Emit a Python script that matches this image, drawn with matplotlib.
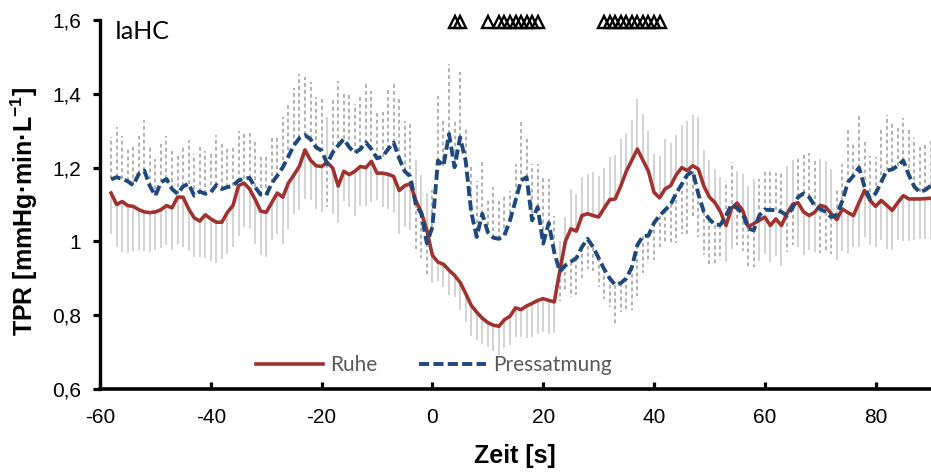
import numpy as np
import matplotlib
matplotlib.use("Agg")
import matplotlib.pyplot as plt
from matplotlib.lines import Line2D

# time axis [s]
t = np.arange(-58, 91)

# TPR means, Ruhe
ruhe = [1.131, 1.100, 1.108, 1.097, 1.095, 1.086, 1.080, 1.078, 1.080, 1.086,
        1.097, 1.091, 1.120, 1.120, 1.088, 1.064, 1.055, 1.072, 1.061, 1.052,
        1.052, 1.079, 1.097, 1.151, 1.158, 1.142, 1.114, 1.082, 1.079, 1.105,
        1.131, 1.120, 1.158, 1.180, 1.204, 1.248, 1.220, 1.205, 1.203, 1.214,
        1.199, 1.150, 1.190, 1.181, 1.190, 1.203, 1.200, 1.217, 1.185, 1.185,
        1.182, 1.176, 1.138, 1.151, 1.156, 1.111, 1.079, 1.030, 0.962, 0.944,
        0.938, 0.922, 0.908, 0.889, 0.859, 0.827, 0.808, 0.792, 0.780, 0.773,
        0.770, 0.788, 0.797, 0.820, 0.815, 0.825, 0.832, 0.840, 0.845, 0.840,
        0.836, 0.920, 1.000, 1.034, 1.028, 1.070, 1.075, 1.070, 1.066, 1.090,
        1.113, 1.115, 1.150, 1.190, 1.220, 1.250, 1.220, 1.190, 1.133, 1.118,
        1.142, 1.151, 1.180, 1.200, 1.192, 1.205, 1.196, 1.150, 1.120, 1.105,
        1.080, 1.043, 1.090, 1.104, 1.084, 1.040, 1.048, 1.057, 1.066, 1.043,
        1.061, 1.043, 1.075, 1.100, 1.105, 1.080, 1.070, 1.079, 1.098, 1.093,
        1.075, 1.059, 1.088, 1.078, 1.070, 1.105, 1.138, 1.111, 1.095, 1.111,
        1.098, 1.084, 1.105, 1.124, 1.115, 1.115, 1.115, 1.116, 1.117]

ruhe_sd = [0.110, 0.114, 0.137, 0.129, 0.121, 0.108, 0.106, 0.107, 0.104, 0.103,
           0.108, 0.113, 0.128, 0.134, 0.114, 0.105, 0.096, 0.116, 0.114, 0.110,
           0.101, 0.112, 0.112, 0.137, 0.119, 0.108, 0.120, 0.120, 0.121, 0.100,
           0.110, 0.126, 0.124, 0.105, 0.120, 0.133, 0.108, 0.117, 0.124, 0.122,
           0.124, 0.100, 0.080, 0.088, 0.120, 0.107, 0.103, 0.111, 0.074, 0.092,
           0.094, 0.100, 0.117, 0.112, 0.126, 0.110, 0.100, 0.100, 0.076, 0.050,
           0.061, 0.068, 0.059, 0.075, 0.077, 0.084, 0.076, 0.070, 0.066, 0.071,
           0.079, 0.076, 0.078, 0.079, 0.075, 0.087, 0.090, 0.090, 0.090, 0.090,
           0.085, 0.080, 0.066, 0.108, 0.100, 0.104, 0.108, 0.118, 0.112, 0.110,
           0.115, 0.120, 0.128, 0.103, 0.110, 0.136, 0.125, 0.108, 0.104, 0.113,
           0.136, 0.115, 0.108, 0.116, 0.135, 0.138, 0.142, 0.097, 0.100, 0.092,
           0.094, 0.100, 0.110, 0.086, 0.100, 0.110, 0.120, 0.110, 0.100, 0.100,
           0.100, 0.110, 0.130, 0.120, 0.120, 0.118, 0.094, 0.109, 0.124, 0.125,
           0.120, 0.110, 0.115, 0.110, 0.085, 0.120, 0.126, 0.122, 0.110, 0.108,
           0.118, 0.108, 0.102, 0.124, 0.115, 0.112, 0.108, 0.110, 0.110]

# TPR means, Pressatmung
press = [1.168, 1.174, 1.169, 1.163, 1.152, 1.183, 1.192, 1.150, 1.124, 1.160,
         1.169, 1.142, 1.129, 1.149, 1.156, 1.124, 1.135, 1.129, 1.133, 1.153,
         1.142, 1.147, 1.151, 1.165, 1.170, 1.172, 1.147, 1.127, 1.125, 1.158,
         1.178, 1.201, 1.230, 1.260, 1.280, 1.288, 1.277, 1.255, 1.246, 1.210,
         1.241, 1.260, 1.277, 1.255, 1.240, 1.250, 1.268, 1.250, 1.225, 1.230,
         1.250, 1.268, 1.225, 1.190, 1.176, 1.100, 1.075, 0.995, 1.039, 1.219,
         1.205, 1.291, 1.201, 1.282, 1.219, 1.080, 1.012, 1.075, 1.025, 1.010,
         1.007, 1.016, 1.057, 1.110, 1.165, 1.174, 1.057, 1.093, 0.994, 1.050,
         0.970, 0.918, 0.935, 0.945, 0.955, 0.985, 1.007, 0.985, 0.955, 0.925,
         0.900, 0.882, 0.887, 0.900, 0.930, 0.990, 1.014, 1.016, 1.050, 1.070,
         1.085, 1.100, 1.130, 1.155, 1.180, 1.190, 1.129, 1.080, 1.060, 1.045,
         1.045, 1.070, 1.100, 1.090, 1.075, 1.035, 1.030, 1.070, 1.086, 1.085,
         1.085, 1.080, 1.070, 1.090, 1.120, 1.130, 1.120, 1.097, 1.088, 1.080,
         1.066, 1.072, 1.110, 1.160, 1.178, 1.200, 1.148, 1.115, 1.130, 1.160,
         1.192, 1.195, 1.205, 1.219, 1.180, 1.148, 1.133, 1.140, 1.151]

press_sd = [0.114, 0.135, 0.117, 0.094, 0.112, 0.110, 0.137, 0.105, 0.100, 0.113,
            0.117, 0.104, 0.103, 0.110, 0.119, 0.113, 0.120, 0.117, 0.104, 0.136,
            0.126, 0.108, 0.108, 0.133, 0.128, 0.130, 0.124, 0.105, 0.103, 0.124,
            0.108, 0.135, 0.146, 0.157, 0.173, 0.158, 0.154, 0.135, 0.144, 0.118,
            0.151, 0.175, 0.122, 0.144, 0.132, 0.140, 0.158, 0.158, 0.129, 0.124,
            0.167, 0.163, 0.170, 0.137, 0.142, 0.130, 0.120, 0.090, 0.100, 0.176,
            0.125, 0.190, 0.131, 0.176, 0.086, 0.130, 0.153, 0.148, 0.090, 0.137,
            0.104, 0.108, 0.080, 0.100, 0.164, 0.112, 0.153, 0.117, 0.180, 0.120,
            0.100, 0.080, 0.072, 0.096, 0.100, 0.086, 0.081, 0.065, 0.078, 0.080,
            0.078, 0.105, 0.077, 0.090, 0.116, 0.138, 0.100, 0.074, 0.100, 0.085,
            0.087, 0.110, 0.135, 0.134, 0.160, 0.120, 0.117, 0.118, 0.120, 0.105,
            0.095, 0.095, 0.114, 0.100, 0.100, 0.105, 0.100, 0.100, 0.104, 0.105,
            0.100, 0.105, 0.100, 0.100, 0.110, 0.111, 0.120, 0.122, 0.120, 0.110,
            0.100, 0.070, 0.100, 0.145, 0.086, 0.143, 0.125, 0.117, 0.100, 0.142,
            0.151, 0.127, 0.109, 0.115, 0.127, 0.132, 0.126, 0.128, 0.120]

# seconds with significant difference
sig_t = [4, 5, 10, 12, 13, 14, 15, 16, 17, 18, 19,
         31, 32, 33, 34, 35, 36, 37, 38, 39, 40, 41]

ruhe = np.array(ruhe)
press = np.array(press)
ruhe_sd = np.array(ruhe_sd)
press_sd = np.array(press_sd)

red = "#A0332F"
blue = "#1F497D"

fig = plt.figure(figsize=(9.31, 4.72), dpi=100)
ax = fig.add_axes([100 / 931, 83 / 472, 831 / 931, 369 / 472])

# SD bars point away from the other curve
up = ruhe >= press
ax.vlines(t, ruhe, np.where(up, ruhe + ruhe_sd, ruhe - ruhe_sd),
          color="#c8c8c8", lw=1.1, zorder=1)
ax.vlines(t, press, np.where(up, press - press_sd, press + press_sd),
          color="#9d9d9d", lw=1.1, linestyles=(0, (2.5, 2)), zorder=1)

ax.plot(t, ruhe, color=red, lw=2.6, zorder=3, solid_joinstyle="round")
ax.plot(t, press, color=blue, lw=2.8, dashes=(2.6, 1.1), zorder=4)

ax.plot(sig_t, [1.595] * len(sig_t), ls="none", marker="^", ms=8.5,
        mfc="none", mec="black", mew=1.7, clip_on=False, zorder=5)

ax.set_xlim(-60, 90)
ax.set_ylim(0.6, 1.6)
ax.set_xticks([-60, -40, -20, 0, 20, 40, 60, 80])
ax.set_xticklabels(["-60", "-40", "-20", "0", "20", "40", "60", "80"])
ax.set_yticks([0.6, 0.8, 1.0, 1.2, 1.4, 1.6])
ax.set_yticklabels(["0,6", "0,8", "1", "1,2", "1,4", "1,6"])

for s in ["top", "right"]:
    ax.spines[s].set_visible(False)
ax.spines["left"].set_linewidth(2.4)
ax.spines["bottom"].set_linewidth(2.6)
ax.tick_params(axis="y", direction="out", length=4.7, width=2.3, pad=9,
               labelsize=15)
ax.tick_params(axis="x", direction="in", length=5, width=2.3, pad=14,
               labelsize=15)
for lab in ax.get_xticklabels() + ax.get_yticklabels():
    lab.set_family("Liberation Sans")

fig.text(515 / 931, 1 - 463 / 472, "Zeit [s]", family="Liberation Sans",
         weight="bold", fontsize=18, ha="center", va="baseline")
fig.text(33 / 931, 1 - 211 / 472, "TPR [mmHg·min·L$^{\\mathregular{-1}}$]",
         family="Liberation Sans", weight="bold", fontsize=18, rotation=90,
         rotation_mode="anchor", ha="center", va="baseline")
fig.text(115 / 931, 1 - 39 / 472, "IaHC", family="Lato", fontsize=18,
         va="baseline")

handles = [Line2D([], [], color=red, lw=2.6),
           Line2D([], [], color=blue, lw=2.8, dashes=(2.6, 1.1))]
ax.legend(handles, ["Ruhe", "Pressatmung"], loc="center",
          bbox_to_anchor=(0.402, 0.065), ncol=2, frameon=False,
          prop={"family": "Lato", "size": 15}, labelcolor="#595959",
          handlelength=3.2, handletextpad=0.35, columnspacing=2.0)

fig.savefig("out.png", dpi=100)
